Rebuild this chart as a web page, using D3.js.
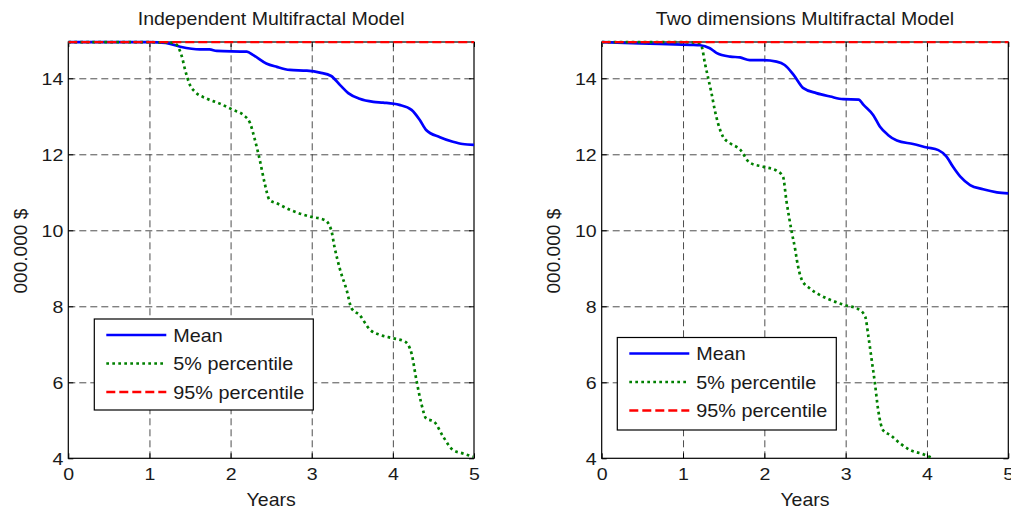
<!DOCTYPE html>
<html>
<head>
<meta charset="utf-8">
<script src="https://cdn.jsdelivr.net/npm/d3@7"></script>
<style>
  body { margin: 0; background: #fff; }
  svg { display: block; }
  text { font-family: "Liberation Sans", Arial, sans-serif; fill: #1a1a1a; }
</style>
</head>
<body>
<div id="chart"></div>
<script>
// values (in 000.000 $)
var xTicks = [0, 1, 2, 3, 4, 5],
  yTicks = [4, 6, 8, 10, 12, 14];

var titles = ['Independent Multifractal Model', 'Two dimensions Multifractal Model'];
var seriesNames = ['Mean', '5% percentile', '95% percentile'];

// left panel
var meanLeftYears = [0, 0.5, 1.0, 1.2, 1.38, 1.62, 1.74, 1.83, 2.2, 2.28, 2.44, 2.57, 2.73, 2.94, 3.10, 3.24, 3.35, 3.45, 3.59, 3.76, 3.88, 4.08, 4.23, 4.33, 4.41, 4.58, 4.74, 4.86, 5.0];
var meanLeft = [14.95, 14.95, 14.95, 14.93, 14.83, 14.76, 14.76, 14.72, 14.70, 14.61, 14.39, 14.30, 14.22, 14.20, 14.15, 14.06, 13.82, 13.61, 13.46, 13.38, 13.36, 13.30, 13.17, 12.91, 12.64, 12.45, 12.33, 12.27, 12.25];
var p5LeftYears = [0, 1.0, 1.3, 1.40, 1.44, 1.50, 1.56, 1.70, 1.86, 2.03, 2.16, 2.24, 2.30, 2.36, 2.42, 2.48, 2.57, 2.73, 2.98, 3.16, 3.24, 3.28, 3.35, 3.43, 3.49, 3.59, 3.72, 3.84, 4.00, 4.15, 4.23, 4.29, 4.35, 4.41, 4.51, 4.62, 4.74, 4.86, 4.99];
var p5Left = [14.95, 14.95, 14.93, 14.57, 14.22, 13.82, 13.65, 13.47, 13.34, 13.17, 13.03, 12.82, 12.38, 11.85, 11.24, 10.80, 10.71, 10.54, 10.36, 10.27, 10.01, 9.57, 8.96, 8.43, 7.95, 7.77, 7.38, 7.25, 7.16, 7.07, 6.76, 6.06, 5.45, 5.05, 4.96, 4.57, 4.22, 4.13, 4.04];
var p95LeftYears = [0, 1, 2, 3, 4, 5];
var p95Left = [14.95, 14.95, 14.95, 14.95, 14.95, 14.95];

// right panel
var meanRightYears = [0, 0.47, 1.09, 1.21, 1.33, 1.41, 1.58, 1.70, 1.82, 1.99, 2.15, 2.25, 2.36, 2.48, 2.64, 2.81, 2.97, 3.16, 3.22, 3.34, 3.42, 3.52, 3.63, 3.83, 4.00, 4.14, 4.24, 4.32, 4.41, 4.53, 4.69, 4.86, 5.0];
var meanRight = [14.95, 14.92, 14.88, 14.87, 14.79, 14.67, 14.57, 14.55, 14.48, 14.48, 14.44, 14.35, 14.09, 13.74, 13.61, 13.52, 13.45, 13.44, 13.30, 13.03, 12.73, 12.51, 12.36, 12.27, 12.18, 12.11, 11.94, 11.67, 11.41, 11.19, 11.08, 11.00, 10.97];
var p5RightYears = [0, 1.0, 1.19, 1.23, 1.27, 1.31, 1.35, 1.39, 1.43, 1.49, 1.58, 1.70, 1.82, 1.99, 2.15, 2.23, 2.27, 2.34, 2.38, 2.40, 2.46, 2.56, 2.68, 2.81, 2.99, 3.16, 3.24, 3.28, 3.32, 3.36, 3.40, 3.46, 3.55, 3.67, 3.79, 3.95, 4.08];
var p5Right = [14.95, 14.95, 14.93, 14.83, 14.39, 14.00, 13.61, 13.17, 12.82, 12.47, 12.29, 12.13, 11.78, 11.67, 11.57, 11.41, 10.80, 9.92, 9.49, 9.22, 8.70, 8.47, 8.30, 8.17, 8.03, 7.92, 7.73, 7.20, 6.59, 5.97, 5.27, 4.74, 4.61, 4.39, 4.22, 4.11, 4.00];
var p95RightYears = [0, 1, 2, 3, 4, 5];
var p95Right = [14.95, 14.95, 14.95, 14.95, 14.95, 14.95];

var W = 1011, H = 510;
var plotTop = 42, plotBottom = 458.3;
var fontSize = 18, tickFontSize = 17;

var svg = d3.select('#chart').append('svg')
  .attr('width', W)
  .attr('height', H);
svg.append('rect').attr('width', W).attr('height', H).attr('fill', '#fff');

function zip(xs, ys) {
  return xs.map(function(x, i) { return [x, ys[i]]; });
}

// the source figure's text is a bit wider than Arial: stretch it sideways
function stretch(sel, k, extra) {
  sel.each(function() {
    var t = d3.select(this);
    var x = +t.attr('x') || 0, y = +t.attr('y') || 0;
    t.attr('x', null).attr('y', null)
      .attr('transform', 'translate(' + x + ',' + y + ')' + (extra || '') + ' scale(' + k + ',1)');
  });
}

// stroke styles per series: mean, 5%, 95%
var styles = [
  { color: '#0000ff', width: 2.7, dash: null },
  { color: '#008000', width: 2.7, dash: '2.7,3.3' },
  { color: '#ff0000', width: 2.3, dash: '9,4' }
];

function panel(id, left, right, title, series, legendPos) {
  var x = d3.scaleLinear().domain([0, 5]).range([left, right]);
  var y = d3.scaleLinear().domain([4, 14.955]).range([plotBottom, plotTop]);
  var g = svg.append('g');

  g.append('clipPath').attr('id', 'clip' + id)
    .append('rect')
    .attr('x', left).attr('y', plotTop - 2)
    .attr('width', right - left + 1).attr('height', plotBottom - plotTop + 2);

  // grid
  var gx = g.append('g')
    .attr('transform', 'translate(0,' + plotBottom + ')')
    .call(d3.axisBottom(x).tickValues(xTicks.slice(1, -1)).tickSize(-(plotBottom - plotTop)).tickFormat(''));
  gx.select('.domain').remove();
  gx.selectAll('line')
    .attr('stroke', '#222').attr('stroke-opacity', 0.8).attr('stroke-dasharray', '7,4');
  var gy = g.append('g')
    .attr('transform', 'translate(' + left + ',0)')
    .call(d3.axisLeft(y).tickValues(yTicks.slice(1)).tickSize(-(right - left)).tickFormat(''));
  gy.select('.domain').remove();
  gy.selectAll('line')
    .attr('stroke', '#222').attr('stroke-opacity', 0.8).attr('stroke-dasharray', '7,4');

  // axes with inward ticks
  var axes = g.append('g');
  var xa = axes.append('g')
    .attr('transform', 'translate(0,' + plotBottom + ')')
    .call(d3.axisBottom(x).tickValues(xTicks).tickSize(-5).tickSizeOuter(0).tickPadding(22).tickFormat(d3.format('d')));
  var ya = axes.append('g')
    .attr('transform', 'translate(' + left + ',0)')
    .call(d3.axisLeft(y).tickValues(yTicks).tickSize(-5).tickSizeOuter(0).tickPadding(5).tickFormat(d3.format('d')));
  axes.append('g')
    .attr('transform', 'translate(0,' + plotTop + ')')
    .call(d3.axisTop(x).tickValues(xTicks).tickSize(-5).tickSizeOuter(0).tickFormat(''));
  axes.append('g')
    .attr('transform', 'translate(' + right + ',0)')
    .call(d3.axisRight(y).tickValues(yTicks).tickSize(-5).tickSizeOuter(0).tickFormat(''));
  axes.selectAll('.domain').remove();
  axes.selectAll('.tick text').attr('font-size', tickFontSize).attr('font-family', null).attr('fill', '#1a1a1a');
  xa.selectAll('.tick text').attr('dy', null);
  ya.selectAll('.tick text').attr('dy', null).attr('y', 6);
  stretch(axes.selectAll('.tick text'), 1.15);
  axes.selectAll('.tick line').attr('stroke', '#000');

  // box (under the data lines, as in the source figure)
  g.append('rect')
    .attr('x', left).attr('y', plotTop)
    .attr('width', right - left).attr('height', plotBottom - plotTop)
    .attr('fill', 'none').attr('stroke', '#000').attr('stroke-width', 1.2);

  // lines
  var line = d3.line()
    .x(function(d) { return x(d[0]); })
    .y(function(d) { return y(d[1]); })
    .curve(d3.curveMonotoneX);
  [0, 1, 2].forEach(function(k) {
    var p = g.append('path')
      .datum(series[k])
      .attr('clip-path', 'url(#clip' + id + ')')
      .attr('fill', 'none')
      .attr('stroke', styles[k].color)
      .attr('stroke-width', styles[k].width)
      .attr('d', line);
    if(styles[k].dash) p.attr('stroke-dasharray', styles[k].dash);
  });

  // labels
  var cx = (left + right) / 2;
  var labels = g.append('g');
  labels.append('text').attr('x', cx).attr('y', 25)
    .attr('text-anchor', 'middle').attr('font-size', fontSize).text(title);
  labels.append('text').attr('x', cx).attr('y', 506)
    .attr('text-anchor', 'middle').attr('font-size', fontSize).text('Years');
  stretch(labels.selectAll('text'), 1.085);
  var yl = labels.append('text')
    .attr('x', left - 41.5).attr('y', (plotTop + plotBottom) / 2 + 1)
    .attr('text-anchor', 'middle').attr('font-size', fontSize).text('000.000 $');
  stretch(yl, 1.06, ' rotate(-90)');

  // legend
  var lg = g.append('g').attr('transform', 'translate(' + legendPos[0] + ',' + legendPos[1] + ')');
  lg.append('rect')
    .attr('width', legendPos[2]).attr('height', legendPos[3])
    .attr('fill', '#fff').attr('stroke', '#000').attr('stroke-width', 1.2);
  seriesNames.forEach(function(name, k) {
    var ly = 16 + k * 28.5;
    var l = lg.append('line')
      .attr('x1', 12).attr('x2', 72).attr('y1', ly).attr('y2', ly)
      .attr('stroke', styles[k].color).attr('stroke-width', styles[k].width);
    if(styles[k].dash) l.attr('stroke-dasharray', styles[k].dash);
    lg.append('text').attr('x', 79).attr('y', ly + 6.5)
      .attr('font-size', fontSize).text(name);
  });
  stretch(lg.selectAll('text'), 1.1);
}

panel('L', 68.3, 474, titles[0],
  [zip(meanLeftYears, meanLeft), zip(p5LeftYears, p5Left), zip(p95LeftYears, p95Left)],
  [94.3, 319, 219, 91]);
panel('R', 601.7, 1008.3, titles[1],
  [zip(meanRightYears, meanRight), zip(p5RightYears, p5Right), zip(p95RightYears, p95Right)],
  [617.3, 337.5, 219, 92.5]);
</script>
</body>
</html>
